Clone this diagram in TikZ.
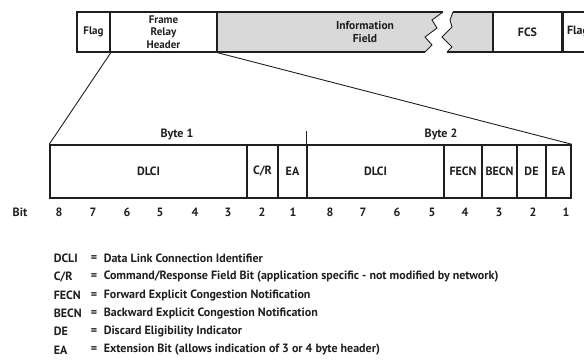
\documentclass[tikz,border=0pt]{standalone}
\usepackage{fontspec}
\setmainfont{PT Sans}
\usetikzlibrary{positioning}
\definecolor{ink}{gray}{0.12}
\definecolor{infogray}{gray}{0.85}
\tikzset{
  fld/.style={draw, minimum height=40pt, inner sep=0pt, align=center, font=\bfseries\fontsize{11}{12.6}\selectfont},
  bitfld/.style={draw, minimum height=53pt, inner sep=0pt, font=\bfseries\fontsize{12}{13}\selectfont},
  lbl/.style={inner sep=0pt, font=\bfseries\fontsize{12}{13}\selectfont}
}
\begin{document}
\begin{tikzpicture}[x=1pt, y=-1pt, line width=1.5pt, color=ink]
\useasboundingbox (0,0) rectangle (584,362);
\clip (0,0) rectangle (584,362);

% frame
\fill[infogray] (217,12) -- (443,12) -- (432,20) -- (437,28) -- (425,37) -- (432,45) -- (425,52) -- (217,52) -- cycle;
\fill[infogray] (453,12) -- (493,12) -- (493,52) -- (447,52) -- (452,47) -- (442,37) -- (452,27) -- (450,20) -- cycle;
\draw (217,12) -- (443,12);
\draw (217,52) -- (425,52);
\draw (453,12) -- (493,12);
\draw (447,52) -- (493,52);
\draw[line width=0.9pt] (443,12) -- (432,20) -- (437,28) -- (425,37) -- (432,45) -- (425,52);
\draw[line width=0.9pt] (453,12) -- (450,20) -- (452,27) -- (442,37) -- (452,47) -- (447,52);

\node[fld, minimum width=33pt] (Flag) at (93.5,32) {Flag};
\node[fld, minimum width=107pt] (Hdr) at (163.5,32) {Frame\\Relay\\Header};
\node[lbl, align=center, font=\bfseries\fontsize{11.5}{13}\selectfont] (Info) at (365,32) {Information\\Field};
\node[fld, minimum width=69pt, font=\bfseries\fontsize{12}{13}\selectfont] (FCS) at (527.5,32) {FCS};
\node[fld, minimum width=30pt, font=\bfseries\fontsize{12}{13}\selectfont] (FlagR) at (578,32) {Flag};

% header bytes
\node[bitfld, minimum width=197pt] (DLCIa) at (148.5,171.5) {DLCI};
\node[bitfld, minimum width=31pt] (CR) at (262.5,171.5) {C/R};
\node[bitfld, minimum width=29pt] (EAa) at (292.5,171.5) {EA};
\node[bitfld, minimum width=137pt] (DLCIb) at (375.5,171.5) {DLCI};
\node[bitfld, minimum width=38pt] (FECN) at (463,171.5) {FECN};
\node[bitfld, minimum width=35pt] (BECN) at (499.5,171.5) {BECN};
\node[bitfld, minimum width=29pt] (DE) at (531.5,171.5) {DE};
\node[bitfld, minimum width=25pt] (EAb) at (558.5,171.5) {EA};
\draw (DLCIb.north west) -- ++(0,-13);
\node[lbl] (Byte1) at (177,134) {Byte 1};
\node[lbl] (Byte2) at (441,134) {Byte 2};

\draw[line width=0.9pt] (Flag.south east) -- (DLCIa.north west);
\draw[line width=0.9pt] (Hdr.south east) -- (EAb.north east);

% bit numbers
\node[lbl] (Bit) at (20,212) {Bit};
\foreach \n/\xx in {8/59, 7/93, 6/127, 5/160, 4/195, 3/228, 2/262, 1/293,
                    8/330, 7/363, 6/397, 5/432, 4/465, 3/499, 2/533, 1/566}
  \node[lbl] (bit\xx) at (\xx,212) {\n};

% legend
\foreach \ab/\txt [count=\i] in {
    DCLI/{Data Link Connection Identifier},
    {C/R}/{Command/Response Field Bit (application specific - not modified by network)},
    FECN/{Forward Explicit Congestion Notification},
    BECN/{Backward Explicit Congestion Notification},
    DE/{Discard Eligibility Indicator},
    EA/{Extension Bit (allows indication of 3 or 4 byte header)}} {
  \node[lbl, anchor=west] (abbr\i) at (53,{258.5+18.3*(\i-1)}) {\ab};
  \node[lbl] (eq\i) at (94,{258.5+18.3*(\i-1)}) {=};
  \node[lbl, anchor=west] (def\i) at (103,{258.5+18.3*(\i-1)}) {\txt};
}
\end{tikzpicture}
\end{document}
